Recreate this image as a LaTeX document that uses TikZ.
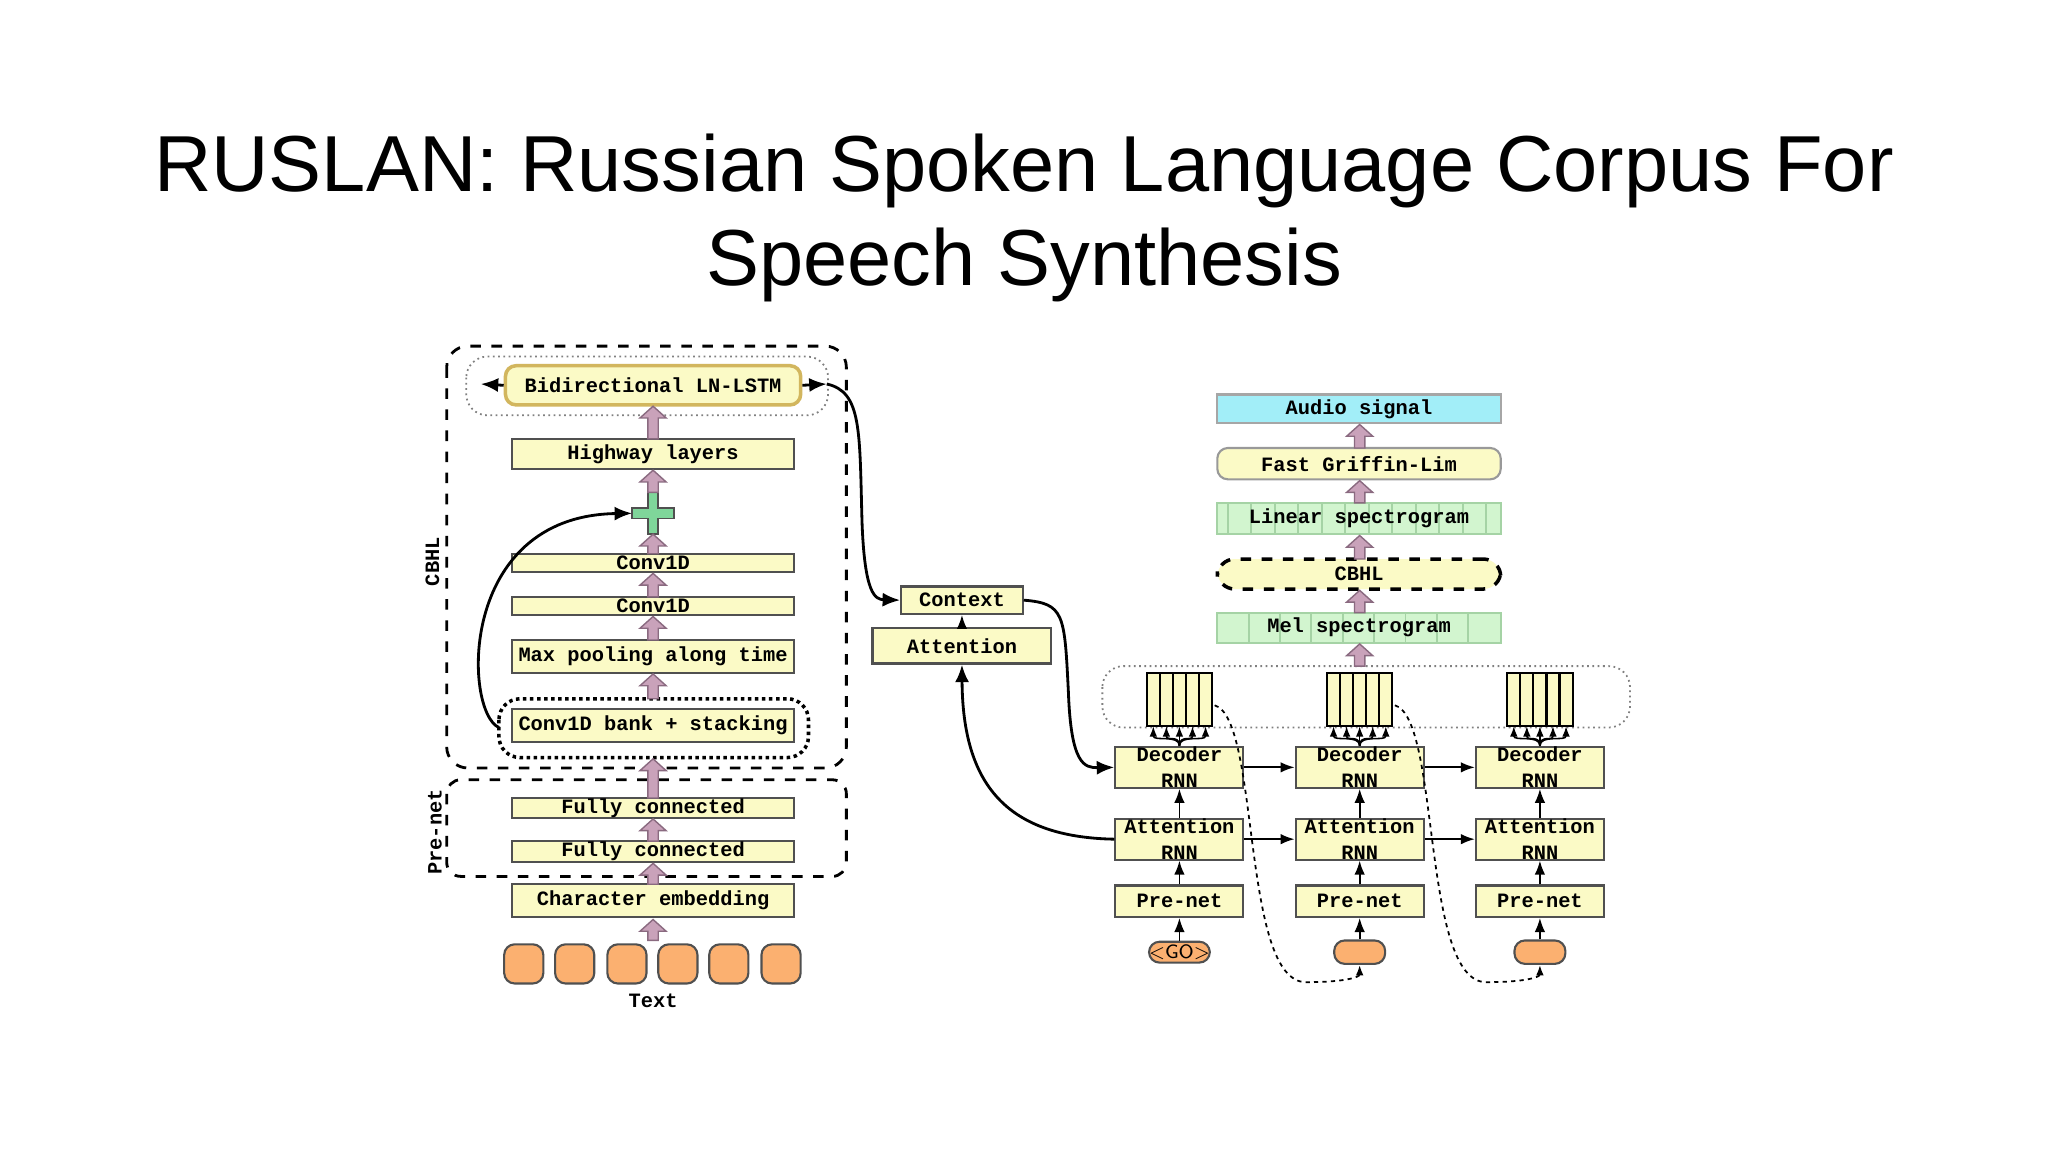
\documentclass[tikz,border=0pt]{standalone}
\usepackage{fontspec}
\setmainfont{Liberation Sans}
\newfontfamily\mono{Liberation Mono}
\usetikzlibrary{arrows.meta}
\definecolor{yel}{HTML}{FBFAC6}
\definecolor{bord}{HTML}{505050}
\definecolor{gold}{HTML}{D2B65E}
\definecolor{mauve}{HTML}{C9A2BA}
\definecolor{mauveD}{HTML}{8A6A80}
\definecolor{orng}{HTML}{FBB070}
\definecolor{grn}{HTML}{D2F5CF}
\definecolor{grnD}{HTML}{A5D3A5}
\definecolor{cyan2}{HTML}{A2EEF8}
\definecolor{plusg}{HTML}{7FD69A}
\newcommand\fatup[3]{\draw[fat] (#1-4,#2) -- (#1-4,#3+9) -- (#1-10,#3+9) -- (#1,#3) -- (#1+10,#3+9) -- (#1+4,#3+9) -- (#1+4,#2) -- cycle;}
\tikzset{
  box/.style 2 args={draw=bord, fill=yel, line width=0.6pt, inner sep=0pt,
    minimum width=#1*0.01306cm, minimum height=#2*0.01306cm,
    font=\mono\bfseries\fontsize{5.8}{7.4}\selectfont, align=center},
  fat/.style={fill=mauve, draw=mauveD, line width=0.4pt},
  arr/.style={-{Latex[length=4pt,width=3pt]}, line width=0.5pt},
  farr/.style={-{Latex[length=3pt,width=2.2pt]}, line width=0.45pt},
  carr/.style={-{Latex[length=5pt,width=4pt]}, line width=0.8pt},
  lbl/.style={font=\mono\bfseries\fontsize{5.8}{6.6}\selectfont},
  fine/.style={dash pattern=on 1.2pt off 1.2pt, line width=0.5pt},
}
\begin{document}
\begin{tikzpicture}[x=0.01306cm, y=-0.01306cm]
\useasboundingbox (0,0) rectangle (1568,882);
\fill[white] (0,0) rectangle (1568,882);
\node[font=\fontsize{22.6}{26.8}\selectfont, align=center] (title) at (784,167)
  {RUSLAN: Russian Spoken Language Corpus For\\Speech Synthesis};

% ---- left encoder ----
\draw[dashed, line width=0.8pt, rounded corners=6] (342,265) rectangle (648,588);
\draw[densely dotted, draw=gray, line width=0.5pt, rounded corners=6] (357,273) rectangle (634,318);
\draw[dashed, line width=0.8pt, rounded corners=4] (342,597) rectangle (648,671);
\draw[densely dotted, line width=1pt, rounded corners=6] (382,535) rectangle (619,580);
\node[lbl, rotate=90] (cbhlL) at (331,430) {CBHL};
\node[lbl, rotate=90] (prenetL) at (333,637) {Pre-net};

\node[box={226}{30}, draw=gold, line width=1pt, rounded corners=3] (lstm) at (500,295) {Bidirectional LN-LSTM};
\node[box={216}{23}] (hw) at (500,347.5) {Highway layers};
\node[box={216}{14}] (c1) at (500,431) {Conv1D};
\node[box={216}{14}] (c2) at (500,464) {Conv1D};
\node[box={216}{25}] (mp) at (500,502.5) {Max pooling along time};
\node[box={216}{25}] (bank) at (500,555.5) {Conv1D bank + stacking};
\node[box={216}{15}] (fc1) at (500,618.5) {Fully connected};
\node[box={216}{16}] (fc2) at (500,652) {Fully connected};
\node[box={216}{25}] (emb) at (500,689.5) {Character embedding};
\foreach \i/\x in {1/401,2/440,3/480,4/519,5/558,6/598}
  \node[draw=bord, fill=orng, rounded corners=3, minimum width=30*0.01306cm, minimum height=30*0.01306cm, line width=0.6pt] (t\i) at (\x,738) {};
\node[lbl] (text) at (500,766) {Text};

\draw[fill=plusg, draw=bord, line width=0.5pt] (496,377) -- (504,377) -- (504,389) -- (516,389) -- (516,397) -- (504,397) -- (504,409) -- (496,409) -- (496,397) -- (484,397) -- (484,389) -- (496,389) -- cycle;
\coordinate (plusL) at (484,393);
\coordinate (bankL) at (382,557);
\coordinate (lstmLa) at (368,294);
\coordinate (lstmRa) at (633,294);

\fatup{500}{720}{704}
\fatup{500}{677}{661}
\fatup{500}{644}{627}
\fatup{500}{611}{581}
\fatup{500}{535}{516}
\fatup{500}{490}{472}
\fatup{500}{457}{439}
\fatup{500}{424}{409}
\fatup{500}{377}{360}
\fatup{500}{336}{311}

\draw[carr] (lstm.west) -- (lstmLa);
\draw[carr] (lstm.east) -- (lstmRa);
\draw[carr] (bankL) .. controls (355,545) and (350,395) .. (plusL);

% ---- attention / context ----
\node[box={93}{21}] (ctx) at (736.5,459.5) {Context};
\node[box={137}{27}] (att) at (736.5,494.5) {Attention};
\draw[arr] (att.north) -- (ctx.south);
\draw[carr] (lstmRa) .. controls (660,300) and (658,330) .. (660,400) .. controls (662,455) and (670,459) .. (ctx.west);

% ---- decoder ----
\draw[densely dotted, draw=gray, line width=0.5pt, rounded corners=6] (844,510) rectangle (1248,557);
\foreach \k/\cx in {1/903,2/1041,3/1179}{
  \node[box={98}{31}] (d\k) at (\cx,587.5) {Decoder\\RNN};
  \node[box={98}{31}] (a\k) at (\cx,642.5) {Attention\\RNN};
  \node[box={98}{24}] (p\k) at (\cx,690) {Pre-net};
  \draw[arr] (p\k.north) -- (a\k.south);
  \draw[arr] (a\k.north) -- (d\k.south);
  \foreach \j in {0,...,4}{
    \draw[fill=yel, draw=black, line width=0.6pt] (\cx-25+10*\j,515) rectangle (\cx-15+10*\j,556);
    \coordinate (s\k\j) at (\cx-20+10*\j,556);
    \draw[farr] (d\k.north) .. controls (\cx,562) and (\cx-20+10*\j,568) .. (s\k\j);
  }
}
\node[draw=bord, fill=orng, rounded corners=3, minimum width=39*0.01306cm, minimum height=16*0.01306cm, inner sep=0pt, font=\sffamily\fontsize{5.5}{6}\selectfont, line width=0.6pt] (o1) at (903,729) {<GO>};
\node[draw=bord, fill=orng, rounded corners=3, minimum width=39*0.01306cm, minimum height=16*0.01306cm, line width=0.6pt] (o2) at (1041,729) {};
\node[draw=bord, fill=orng, rounded corners=3, minimum width=39*0.01306cm, minimum height=16*0.01306cm, line width=0.6pt] (o3) at (1179,729) {};
\foreach \k in {1,2,3} \draw[arr] (o\k.north) -- (p\k.south);
\draw[arr] (d1.east) -- (d2.west);
\draw[arr] (d2.east) -- (d3.west);
\draw[arr] (a1.east) -- (a2.west);
\draw[arr] (a2.east) -- (a3.west);
\coordinate (st1) at (930,540);
\coordinate (st2) at (1068,540);
\draw[farr, fine] (st1) .. controls (965,550) and (950,752) .. (1000,752) .. controls (1030,752) and (1041,748) .. (o2.south);
\draw[farr, fine] (st2) .. controls (1103,550) and (1088,752) .. (1138,752) .. controls (1168,752) and (1179,748) .. (o3.south);
\draw[carr] (ctx.east) .. controls (815,462) and (815,470) .. (818,530) .. controls (820,585) and (830,588) .. (d1.west);
\draw[carr] (a1.west) .. controls (770,641) and (737,600) .. (att.south);

% ---- post-processing stack ----
\node[box={217}{22}, fill=cyan2, draw=gray!70] (audio) at (1040.5,313) {Audio signal};
\node[box={217}{24}, draw=gray!80, rounded corners=3] (gl) at (1040.5,355) {Fast Griffin-Lim};
\fill[grn] (932,385) rectangle (1149,409);
\foreach \x in {940,958,976,994,1012,1030,1048,1066,1084,1102,1120,1138} \draw[grnD, line width=0.5pt] (\x,385) -- (\x,409);
\node[box={217}{24}, fill=none, draw=grnD] (lin) at (1040.5,397) {Linear spectrogram};
\node[box={217}{23}, dashed, line width=1pt, draw=black, rounded corners=5] (cb) at (1040.5,439.5) {CBHL};
\fill[grn] (932,469) rectangle (1149,492);
\foreach \x in {956,980,1004,1028,1052,1076,1100,1124} \draw[grnD, line width=0.5pt] (\x,469) -- (\x,492);
\node[box={217}{23}, fill=none, draw=grnD] (mel) at (1040.5,480.5) {Mel spectrogram};
\fatup{1041}{510}{493}
\fatup{1041}{469}{452}
\fatup{1041}{428}{410}
\fatup{1041}{385}{368}
\fatup{1041}{343}{325}
\end{tikzpicture}
\end{document}
